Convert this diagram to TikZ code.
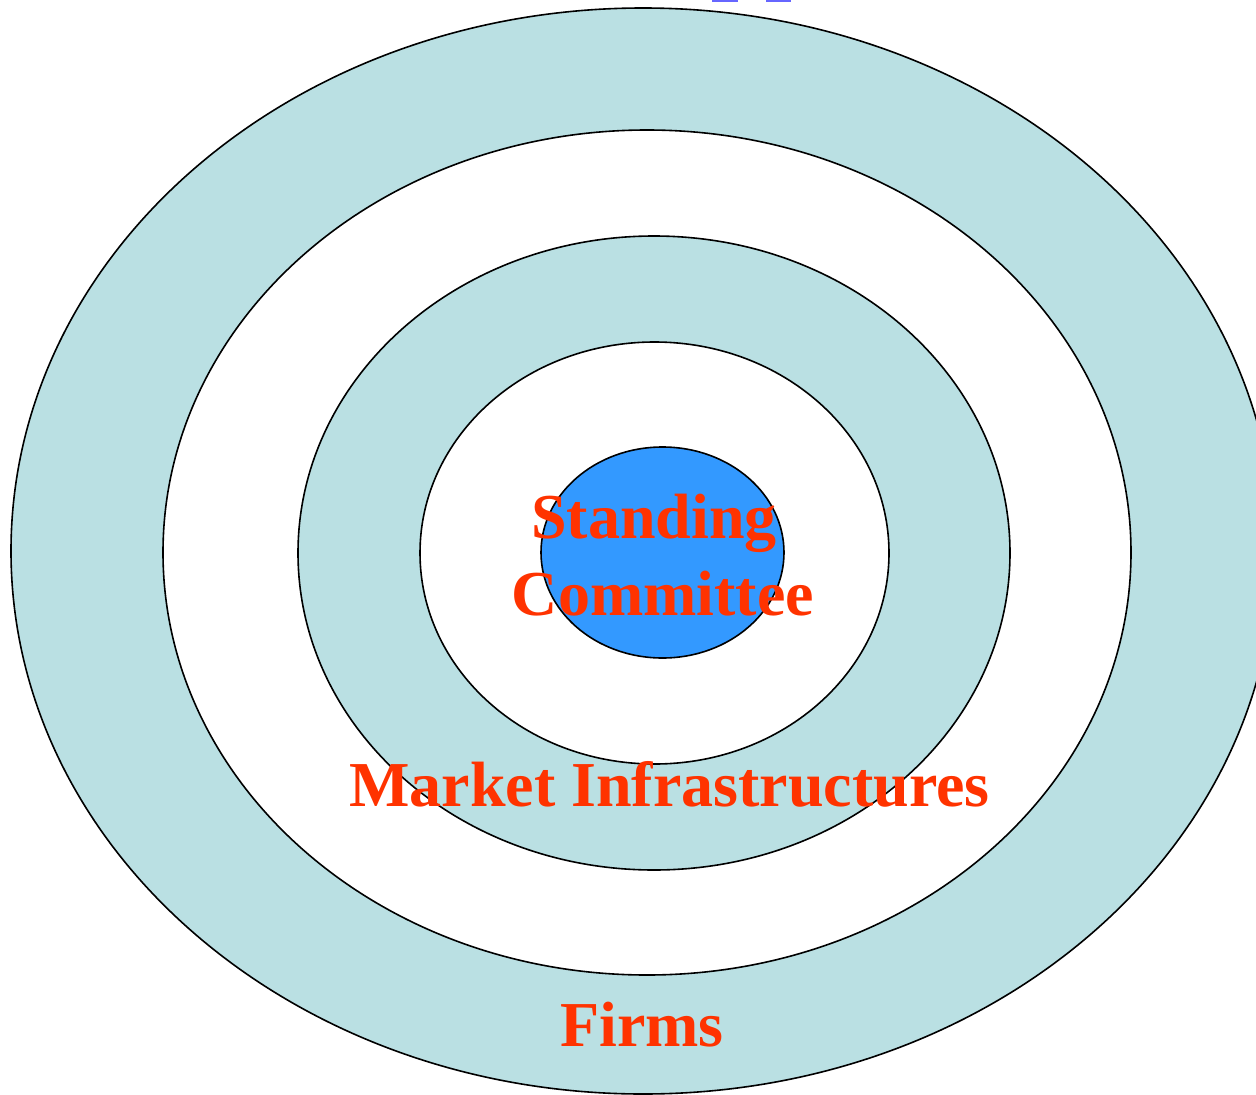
\documentclass[tikz,border=0pt]{standalone}
\usepackage{fontspec}
\setmainfont{Liberation Serif}
\usetikzlibrary{shapes.geometric}
\definecolor{ringblue}{HTML}{BAE0E3}
\definecolor{coreblue}{HTML}{3399FF}
\definecolor{labelred}{HTML}{FF3300}
\definecolor{linkblue}{HTML}{6666FF}
\tikzset{
  ring/.style={ellipse, draw=black, line width=1.6pt, inner sep=0pt},
  label/.style={text=labelred, font=\bfseries\fontsize{64}{77}\selectfont, align=center, inner sep=0pt},
}
\begin{document}
\begin{tikzpicture}[x=1pt, y=-1pt]
  \useasboundingbox (0,0) rectangle (1256,1095);
  % concentric rings, outermost first
  \node[ring, fill=ringblue, minimum width=1264pt, minimum height=1086pt] (r1) at (643,551) {};
  \node[ring, fill=white, minimum width=968pt, minimum height=845pt] (r2) at (647,552.5) {};
  \node[ring, fill=ringblue, minimum width=712pt, minimum height=634pt] (r3) at (654,553) {};
  \node[ring, fill=white, minimum width=469pt, minimum height=422pt] (r4) at (654.5,553) {};
  \node[ring, fill=coreblue, minimum width=243pt, minimum height=211pt] (core) at (662.5,552.5) {};
  % small marks at the top edge
  \fill[linkblue] (712,0) rectangle (738,2);
  \fill[linkblue] (766,0) rectangle (791,2);
  % labels
  \node[label, anchor=base] (std) at (654,538) {Standing};
  \node[label, anchor=base] (com) at (663,615) {Committee};
  \node[label, anchor=base] (mkt) at (669.5,806) {Market Infrastructures};
  \node[label, anchor=base] (firms) at (642,1046) {Firms};
\end{tikzpicture}
\end{document}
